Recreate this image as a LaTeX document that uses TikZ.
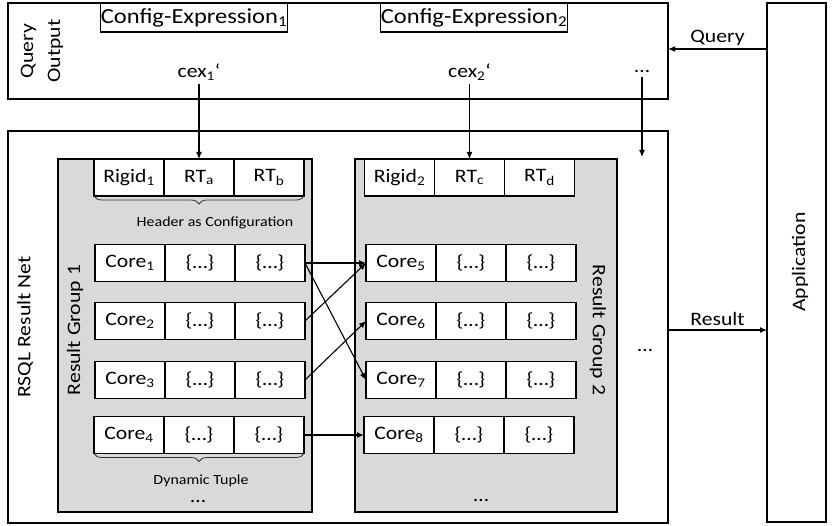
\documentclass[tikz,border=0pt]{standalone}
\usepackage{fontspec}
\setmainfont{Carlito}[FakeStretch=1.14]
\usetikzlibrary{arrows.meta,decorations.pathreplacing,positioning}
\definecolor{groupgray}{HTML}{D9D9D9}

\begin{document}
\begin{tikzpicture}[x=1pt,y=-1pt,
	font=\fontsize{19}{22}\selectfont,
	box/.style={draw,line width=1.2pt,inner sep=0pt,outer sep=0pt},
	group/.style={box,fill=groupgray},
	cell/.style={box,fill=white,minimum width=70pt,minimum height=37pt},
	arr/.style={-{Latex[length=7pt,width=6pt]},line width=1.1pt},
	brc/.style={decorate,decoration={brace,mirror,amplitude=8pt},line width=0.8pt,black!80},
	small/.style={font=\fontsize{14}{16}\selectfont},
	big/.style={font=\fontsize{21.5}{24}\selectfont}]
	\useasboundingbox (0,0) rectangle (832,526);

	% outer boxes
	\node[box,minimum width=660pt,minimum height=96pt] (qout) at (338,51) {};
	\node[box,minimum width=59pt,minimum height=519pt] (app) at (796.5,262.5) {};
	\node[box,minimum width=660pt,minimum height=392pt] (net) at (338,327) {};
	\node[group,minimum width=254pt,minimum height=353pt] (grp1) at (185,335.5) {};
	\node[group,minimum width=262pt,minimum height=353pt] (grp2) at (486,335.5) {};

	\node[rotate=90,align=center] (qoutlbl) at (42,51) {Query\\[5pt]Output};
	\node[rotate=90] (applbl) at (800,262) {Application};
	\node[rotate=90] (netlbl) at (25,327) {RSQL Result Net};
	\node[rotate=90] (grp1lbl) at (75,330) {Result Group 1};
	\node[rotate=-90] (grp2lbl) at (598,330) {Result Group 2};

	\node[box,big,minimum width=178pt,minimum height=29pt] (cfg1) at (194,17.5) {Config-Expression\textsubscript{1}};
	\node[box,big,minimum width=178pt,minimum height=29pt] (cfg2) at (474,17.5) {Config-Expression\textsubscript{2}};
	\node[] (cex1) at (199,72) {cex\textsubscript{1}‘};
	\node[] (cex2) at (469.5,72) {cex\textsubscript{2}‘};
	\node[] (qdots) at (642,72) {…};

	% headers
	\node[cell] (rigid1) at (129,177.5) {Rigid\textsubscript{1}};
	\node[cell,right=0pt of rigid1] (rta) {RT\textsubscript{a}};
	\node[cell,right=0pt of rta] (rtb) {RT\textsubscript{b}};
	\node[cell] (rigid2) at (399.5,177.5) {Rigid\textsubscript{2}};
	\node[cell,right=0pt of rigid2] (rtc) {RT\textsubscript{c}};
	\node[cell,right=0pt of rtc] (rtd) {RT\textsubscript{d}};

	% tuples
	\foreach \n/\x/\y in {1/130/263,2/130/321,3/130/380,4/129/435,5/401/263,6/401/321,7/401/380,8/399/435}{
		\node[cell] (core\n) at (\x,\y) {Core\textsubscript{\n}};
		\node[cell,right=0pt of core\n] (set\n a) {\{…\}};
		\node[cell,right=0pt of set\n a] (set\n b) {\{…\}};
	}

	\draw[brc] (rigid1.south west) -- (rtb.south east);
	\node[small] (hdrlbl) at (215,223) {Header as Configuration};
	\draw[brc] (core4.south west) -- (set4b.south east);
	\node[small] (dynlbl) at (201,481) {Dynamic Tuple};
	\node[] (g1dots) at (198,501) {…};
	\node[] (g2dots) at (481,500) {…};
	\node[] (netdots) at (645,350) {…};

	% connectors
	\coordinate (qdotsend) at (642,157);
	\coordinate (qy) at (720,49);
	\coordinate (ry) at (720,330);
	\draw[arr] (cex1) -- (rta.north);
	\draw[arr] (cex2) -- (rtc.north);
	\draw[arr] (qdots) -- (qdotsend);
	\draw[arr] (app.west |- qy) -- node[above] {Query} (qout.east |- qy);
	\draw[arr] (net.east |- ry) -- node[above] {Result} (app.west |- ry);
	\draw[arr] (set1b.east) -- (core5.west);
	\draw[arr] (set1b.east) -- (core7.west);
	\draw[arr] (set2b.east) -- (core5.west);
	\draw[arr] (set3b.east) -- (core6.west);
	\draw[arr] (set4b.east) -- (core8.west);
\end{tikzpicture}
\end{document}
